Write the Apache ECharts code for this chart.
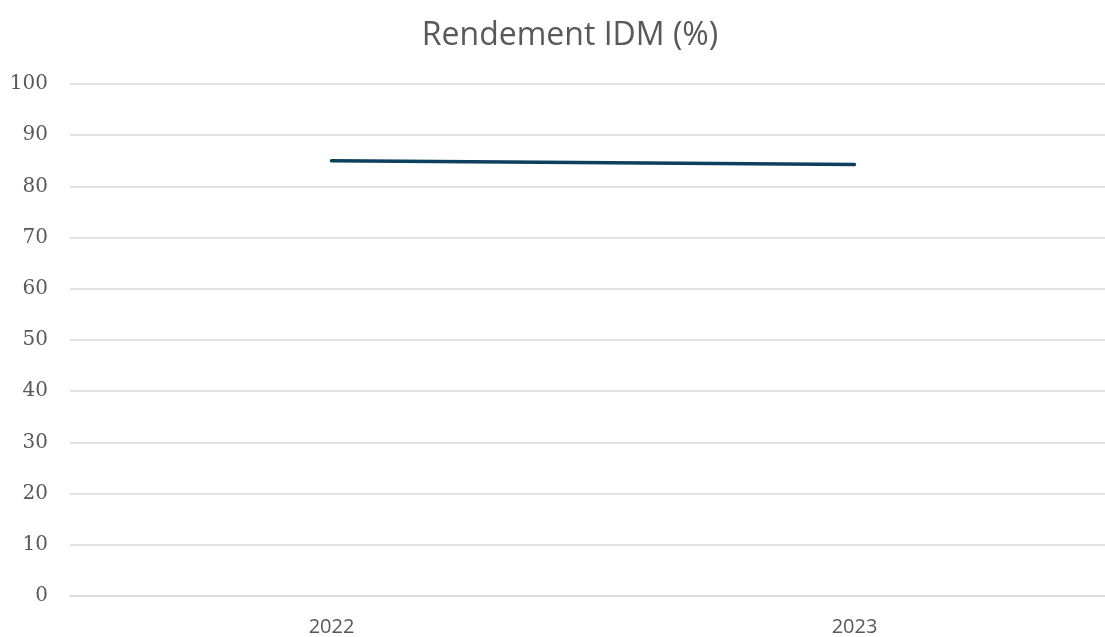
<!DOCTYPE html>
<html>
<head>
<meta charset="utf-8">
<script src="https://cdn.jsdelivr.net/npm/echarts@6/dist/echarts.min.js"></script>
<style>
  html, body { margin: 0; padding: 0; background: #fff; overflow: hidden; }
  #chart { width: 1116px; height: 637px; }
</style>
</head>
<body>
<div id="chart"></div>
<script>
// données
var annees = ['2022', '2023']
var rendement = [85.0, 84.3]
var yTicks = [0, 10, 20, 30, 40, 50, 60, 70, 80, 90, 100]

var myChart = echarts.init(document.getElementById('chart'))
myChart.setOption({
    animation: false,
    title: {
        text: 'Rendement IDM (%)',
        left: 565,
        textAlign: 'center',
        top: 15,
        textStyle: {
            fontFamily: 'Open Sans',
            fontSize: 32,
            fontWeight: 'normal',
            color: '#595959'
        }
    },
    grid: {
        left: 70,
        right: 0,
        top: 84,
        bottom: 41
    },
    xAxis: {
        type: 'category',
        data: annees,
        boundaryGap: true,
        axisLine: { show: true, lineStyle: { color: '#d9d9d9', width: 1.5 } },
        axisTick: { show: false },
        axisLabel: {
            margin: 21,
            fontFamily: 'Open Sans',
            fontSize: 20,
            color: '#595959'
        }
    },
    yAxis: {
        type: 'value',
        min: yTicks[0],
        max: yTicks[yTicks.length - 1],
        interval: 10,
        axisLine: { show: false },
        axisTick: { show: false },
        axisLabel: {
            margin: 22,
            fontFamily: 'DejaVu Serif',
            fontSize: 20,
            color: '#595959'
        },
        splitLine: { lineStyle: { color: '#d9d9d9', width: 1.5 } }
    },
    series: [{
        name: 'Rendement IDM',
        type: 'line',
        data: rendement,
        symbol: 'none',
        lineStyle: { color: '#0d3f5e', width: 3.5, cap: 'round' }
    }]
})
</script>
</body>
</html>
